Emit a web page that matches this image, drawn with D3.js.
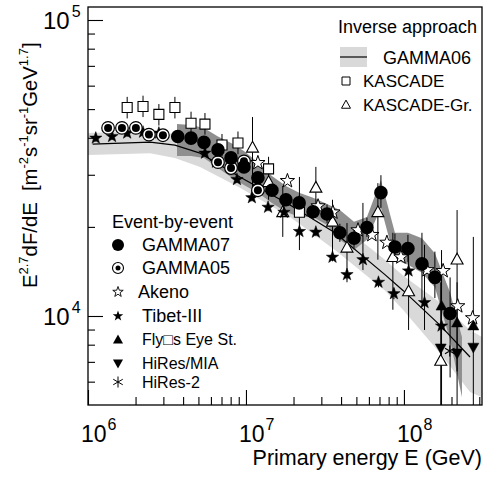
<!DOCTYPE html>
<html><head><meta charset="utf-8">
<script src="https://cdn.jsdelivr.net/npm/d3@7"></script>
<style>body{margin:0;background:#fff} text{font-family:"Liberation Sans",Arial,sans-serif;fill:#000}</style>
</head><body><svg id="c" width="486" height="477"></svg>
<script>
// ---------- data (E in GeV, F = E^2.7 dF/dE) ----------
// GAMMA06 (inverse approach) band and line
const g06E   = [1.0e6,2.47e6,3.55e6,5.12e6,9.16e6,1.90e7,3.66e7,7.58e7,9.86e7,1.69e8,2.62e8,3.12e8];
const g06Hi  = [4.15e4,4.22e4,4.12e4,3.84e4,3.24e4,2.61e4,2.11e4,1.55e4,1.37e4,1.11e4,8.97e3,8.49e3];
const g06Lo  = [3.50e4,3.55e4,3.42e4,3.19e4,2.71e4,2.16e4,1.67e4,1.22e4,1.05e4,7.50e3,5.54e3,5.32e3];
const g06LineE = [1.07e6,2.47e6,3.55e6,5.12e6,9.16e6,1.90e7,3.66e7,7.58e7,9.86e7,1.69e8,2.62e8];
const g06LineF = [3.81e4,3.87e4,3.78e4,3.55e4,2.95e4,2.37e4,1.91e4,1.38e4,1.22e4,9.32e3,7.27e3];
// GAMMA07 systematic band
const bandE  = [3.66e6,4.49e6,5.42e6,6.65e6,8.04e6,9.71e6,1.19e7,1.46e7,1.79e7,2.17e7,2.66e7,3.26e7,3.93e7,4.83e7,5.83e7,7.15e7,8.77e7,1.06e8,1.30e8,1.57e8,1.96e8,2.33e8];
const bandHi = [4.45e4,4.42e4,4.32e4,4.04e4,3.84e4,3.61e4,3.31e4,2.97e4,2.75e4,2.61e4,2.51e4,2.39e4,2.28e4,2.08e4,2.16e4,2.88e4,1.91e4,1.91e4,1.83e4,1.63e4,1.20e4,8.49e3];
const bandLo = [3.47e4,3.47e4,3.42e4,3.16e4,2.95e4,2.77e4,2.61e4,2.41e4,2.25e4,2.16e4,2.16e4,2.03e4,1.81e4,1.67e4,1.81e4,2.32e4,1.55e4,1.49e4,1.40e4,1.25e4,8.30e3,5.32e3];
// GAMMA07
const g07E  = [3.7e6,4.49e6,5.42e6,6.65e6,8.04e6,9.71e6,1.19e7,1.46e7,1.79e7,2.17e7,2.66e7,3.26e7,3.93e7,4.83e7,5.83e7,7.15e7,8.77e7,1.06e8,1.30e8,1.57e8,1.96e8];
const g07F  = [4.04e4,3.99e4,3.86e4,3.64e4,3.42e4,3.19e4,2.93e4,2.66e4,2.47e4,2.41e4,2.25e4,2.21e4,1.91e4,1.83e4,1.99e4,2.61e4,1.71e4,1.69e4,1.50e4,1.35e4,1.02e4];
const g07Hi = [4.2e4,4.15e4,4.0e4,3.8e4,3.55e4,3.32e4,3.05e4,2.78e4,2.6e4,2.55e4,2.4e4,2.38e4,2.05e4,1.98e4,2.15e4,2.99e4,1.9e4,1.88e4,1.91e4,1.65e4,1.35e4];
const g07Lo = [3.9e4,3.85e4,3.72e4,3.5e4,3.3e4,3.07e4,2.82e4,2.55e4,2.35e4,2.28e4,2.12e4,2.06e4,1.78e4,1.7e4,1.85e4,2.32e4,1.55e4,1.52e4,1.13e4,1.15e4,6.2e3];
// GAMMA05
const g05E = [1.34e6,1.64e6,2.01e6,2.43e6,2.98e6,6.65e6,8.04e6,9.71e6,1.19e7];
const g05F = [4.32e4,4.32e4,4.32e4,4.10e4,4.08e4,3.31e4,3.16e4,3.33e4,2.66e4];
// KASCADE
const kE  = [1.77e6,2.23e6,2.81e6,3.55e6,4.49e6,5.50e6,7.05e6,8.90e6,1.39e7,2.18e7];
const kF  = [5.06e4,5.10e4,4.80e4,5.06e4,4.48e4,4.45e4,3.78e4,3.84e4,3.14e4,2.24e4];
const kHi = [5.5e4,5.55e4,5.2e4,5.5e4,4.9e4,4.85e4,4.12e4,4.2e4,3.45e4,2.95e4];
const kLo = [4.65e4,4.7e4,4.4e4,4.65e4,4.1e4,4.1e4,3.46e4,3.52e4,2.85e4,1.67e4];
// KASCADE-Grande
const kgE  = [1.10e7,1.39e7,1.71e7,2.77e7,3.53e7,4.36e7,6.84e7,8.51e7,1.07e8,1.71e8,2.17e8];
const kgF  = [3.70e4,2.83e4,2.24e4,2.71e4,2.08e4,1.70e4,2.24e4,1.58e4,1.21e4,7.05e3,1.55e4];
const kgHi = [4.70e4,3.20e4,2.75e4,3.19e4,2.47e4,2.06e4,2.81e4,1.91e4,1.74e4,1.30e4,2.28e4];
const kgLo = [2.47e4,2.47e4,1.85e4,2.28e4,1.55e4,1.30e4,1.55e4,1.05e4,8.97e3,4.0e3,4.0e3];
// Akeno
const akE = [1.19e7,1.83e7,2.86e7,3.55e7,5.12e7,6.27e7,7.80e7,9.57e7,1.40e8,1.77e8,2.19e8,2.72e8];
const akF = [3.29e4,2.86e4,2.35e4,2.24e4,1.95e4,1.88e4,1.77e4,1.58e4,1.43e4,1.42e4,1.08e4,9.84e3];
// Tibet-III
const tbE  = [1.12e6,1.42e6,1.77e6,2.23e6,2.81e6,5.50e6,6.46e6,8.77e6,1.09e7,1.38e7,1.74e7,2.18e7,2.77e7,3.53e7,4.36e7,5.50e7,6.90e7,8.64e7,1.07e8,1.35e8,1.73e8];
const tbF  = [3.99e4,4.04e4,4.15e4,4.18e4,4.15e4,3.55e4,3.31e4,2.89e4,2.51e4,2.33e4,2.24e4,1.93e4,1.92e4,1.58e4,1.38e4,1.55e4,1.30e4,1.19e4,1.42e4,1.11e4,9.25e3];
const tbHi = [4.1e4,4.15e4,4.27e4,4.3e4,4.27e4,3.65e4,3.4e4,2.97e4,2.58e4,2.4e4,2.3e4,1.99e4,1.98e4,1.63e4,1.43e4,2.41e4,1.35e4,1.24e4,1.48e4,1.74e4,9.6e3];
const tbLo = [3.88e4,3.93e4,4.03e4,4.06e4,4.03e4,3.45e4,3.22e4,2.81e4,2.44e4,2.26e4,2.18e4,1.87e4,1.86e4,1.53e4,1.33e4,1.43e4,1.25e4,1.14e4,1.36e4,8.97e3,8.9e3];
// Fly's Eye stereo
const feE  = [1.73e8,2.17e8,2.75e8];
const feF  = [1.08e4,9.47e3,9.25e3];
const feHi = [1.67e4,1.3e4,1.85e4];
const feLo = [4.0e3,6.5e3,4.0e3];
// HiRes/MIA
const hmE = [1.71e8,2.17e8,2.75e8];
const hmF = [7.80e3,7.50e3,7.85e3];
// HiRes-2
const h2E = [1.95e8];
const h2F = [7.62e3];
// axis ticks
const xMajor = [1e6,1e7,1e8];
const xMajorExp = ["6","7","8"];
const yMajor = [1e4,1e5];
const yMajorExp = ["4","5"];

// ---------- scales ----------
const svg = d3.select("#c");
const x = d3.scaleLog().domain([1e6,3.12e8]).range([88,482]);
const y = d3.scaleLog().domain([5004,1.1064e5]).range([405,7]);

svg.append("defs").append("clipPath").attr("id","clip")
  .append("rect").attr("x",88).attr("y",7).attr("width",394).attr("height",398);
const plot = svg.append("g").attr("clip-path","url(#clip)");

// bands
const zip3 = (E,H,L)=>E.map((e,i)=>({e,h:H[i],l:L[i]}));
const area = d3.area().x(d=>x(d.e)).y0(d=>y(d.l)).y1(d=>y(d.h));
plot.append("path").datum(zip3(g06E,g06Hi,g06Lo)).attr("d",area).attr("fill","#d9d9d9");
plot.append("path").datum(zip3(bandE,bandHi,bandLo)).attr("d",area).attr("fill","#8f8f8f");
plot.append("path").datum(g06LineE.map((e,i)=>[e,g06LineF[i]]))
  .attr("d",d3.line().x(d=>x(d[0])).y(d=>y(d[1])))
  .attr("fill","none").attr("stroke","#000").attr("stroke-width",1.2);

// error bars
function errs(E,H,L){
  plot.append("g").selectAll("line").data(E.map((e,i)=>({e,h:H[i],l:L[i]}))).join("line")
    .attr("x1",d=>x(d.e)).attr("x2",d=>x(d.e)).attr("y1",d=>y(d.h)).attr("y2",d=>y(d.l))
    .attr("stroke","#000").attr("stroke-width",1);
}
errs(kE,kHi,kLo); errs(kgE,kgHi,kgLo); errs(tbE,tbHi,tbLo); errs(g07E,g07Hi,g07Lo); errs(feE,feHi,feLo);

// marker shapes
function star(R){const r=R*0.4;let p="";for(let i=0;i<10;i++){const a=-Math.PI/2+i*Math.PI/5,rr=i%2?r:R;p+=(i?"L":"M")+(rr*Math.cos(a)).toFixed(2)+","+(rr*Math.sin(a)).toFixed(2);}return p+"Z";}
function tri(w,down){const h=w*0.9,s=down?-1:1;return `M0,${-s*h*0.6}L${w/2},${s*h*0.4}L${-w/2},${s*h*0.4}Z`;}
function sq(s){return `M${-s/2},${-s/2}h${s}v${s}h${-s}Z`;}
function circ(r){return `M${-r},0a${r},${r} 0 1,0 ${2*r},0a${r},${r} 0 1,0 ${-2*r},0Z`;}
function aster(R){const c=Math.cos(Math.PI/6)*R,s=Math.sin(Math.PI/6)*R;return `M0,${-R}V${R}M${-c},${-s}L${c},${s}M${-c},${s}L${c},${-s}`;}

function marks(g,E,F,path,fill,stroke,sw){
  g.append("g").selectAll("path").data(E.map((e,i)=>[e,F[i]])).join("path")
    .attr("transform",d=>`translate(${x(d[0])},${y(d[1])})`).attr("d",path)
    .attr("fill",fill).attr("stroke",stroke).attr("stroke-width",sw);
}
marks(plot,kE,kF,sq(10),"#fff","#000",1.1);
marks(plot,kgE,kgF,tri(12,false),"#fff","#000",1.1);
marks(plot,akE,akF,star(7.5),"#fff","#000",1);
marks(plot,tbE,tbF,star(6.5),"#000","#000",0.5);
marks(plot,g05E,g05F,circ(6.3),"#fff","#000",1.2);
marks(plot,g05E,g05F,circ(4),"#000","none",0);
marks(plot,g07E,g07F,circ(6.8),"#000","none",0);
marks(plot,feE,feF,tri(11,false),"#000","#000",0.5);
marks(plot,hmE,hmF,tri(11,true),"#000","#000",0.5);
marks(plot,h2E,h2F,aster(5.5),"none","#000",1.1);

// frame & ticks
svg.append("rect").attr("x",88).attr("y",7).attr("width",394).attr("height",398)
  .attr("fill","none").attr("stroke","#000").attr("stroke-width",1.3);
const minorX=[],minorY=[];
[1e6,1e7,1e8].forEach(d=>{for(let k=2;k<=9;k++){const v=d*k;if(v<=3.12e8)minorX.push(v);}});
[1e3,1e4].forEach(d=>{for(let k=2;k<=9;k++){const v=d*k;if(v>=5004&&v<=1.1064e5)minorY.push(v);}});
function styleAxis(g){g.select(".domain").remove();g.selectAll("line").attr("stroke","#000").attr("stroke-width",1.1);}
svg.append("g").attr("transform","translate(0,405)").call(d3.axisBottom(x).tickValues(minorX).tickSize(-8).tickFormat("")).call(styleAxis);
svg.append("g").attr("transform","translate(0,405)").call(d3.axisBottom(x).tickValues(xMajor).tickSize(-15).tickFormat("")).call(styleAxis);
svg.append("g").attr("transform","translate(88,0)").call(d3.axisLeft(y).tickValues(minorY).tickSize(-7).tickFormat("")).call(styleAxis);
svg.append("g").attr("transform","translate(88,0)").call(d3.axisLeft(y).tickValues(yMajor).tickSize(-15).tickFormat("")).call(styleAxis);

// tick labels
xMajor.forEach((v,i)=>{
  const t=svg.append("text").attr("x",x(v)-7).attr("y",442).attr("font-size",23).text("10");
  t.append("tspan").attr("dy",-12).attr("dx",1).attr("font-size",16).text(xMajorExp[i]);
});
yMajor.forEach((v,i)=>{
  const t=svg.append("text").attr("x",43).attr("y",y(v)+9).attr("font-size",24).text("10");
  t.append("tspan").attr("dy",-12).attr("font-size",16).attr("dx",2).text(yMajorExp[i]);
});

// axis titles
svg.append("text").attr("x",482).attr("y",465).attr("font-size",21.5).attr("text-anchor","end").text("Primary energy E (GeV)");
const yl=svg.append("text").attr("transform","translate(37,288) rotate(-90)").attr("font-size",20.3);
const parts=[["E",0],["2.7",1],["dF/dE\u00a0\u00a0[m",0],["-2",1],["s",0],["-1",1],["sr",0],["-1",1],["GeV",0],["1.7",1],["]",0]];
let prevSup=false;
parts.forEach(([s,sup])=>{
  const ts=yl.append("tspan").text(s);
  if(sup&&!prevSup){ts.attr("dy",-9).attr("font-size",13);}
  else if(!sup&&prevSup){ts.attr("dy",9);}
  else if(sup){ts.attr("font-size",13);}
  prevSup=!!sup;
});

// legend: inverse approach
svg.append("text").attr("x",338).attr("y",33).attr("font-size",18).text("Inverse approach");
svg.append("rect").attr("x",340).attr("y",47).attr("width",27).attr("height",20).attr("fill","#d9d9d9");
svg.append("line").attr("x1",340).attr("x2",367).attr("y1",57).attr("y2",57).attr("stroke","#000").attr("stroke-width",1.2);
svg.append("text").attr("x",383).attr("y",64).attr("font-size",18).text("GAMMA06");
svg.append("path").attr("transform","translate(346,81)").attr("d",sq(8)).attr("fill","#fff").attr("stroke","#000").attr("stroke-width",1);
svg.append("text").attr("x",363).attr("y",87).attr("font-size",17).text("KASCADE");
svg.append("path").attr("transform","translate(346,105)").attr("d",tri(9,false)).attr("fill","#fff").attr("stroke","#000").attr("stroke-width",1);
svg.append("text").attr("x",363).attr("y",111).attr("font-size",17).text("KASCADE-Gr.");

// legend: event-by-event
svg.append("text").attr("x",112).attr("y",228).attr("font-size",18).text("Event-by-event");
const lx=118;
const leg=svg.append("g");
leg.append("path").attr("transform",`translate(${lx},245)`).attr("d",circ(6)).attr("fill","#000");
leg.append("text").attr("x",142).attr("y",251).attr("font-size",18).text("GAMMA07");
leg.append("path").attr("transform",`translate(${lx},268)`).attr("d",circ(5.5)).attr("fill","#fff").attr("stroke","#000").attr("stroke-width",1.1);
leg.append("path").attr("transform",`translate(${lx},268)`).attr("d",circ(2.5)).attr("fill","#000");
leg.append("text").attr("x",142).attr("y",274).attr("font-size",18).text("GAMMA05");
leg.append("path").attr("transform",`translate(${lx},292)`).attr("d",star(5.5)).attr("fill","#fff").attr("stroke","#000").attr("stroke-width",0.9);
leg.append("text").attr("x",138).attr("y",298).attr("font-size",18).text("Akeno");
leg.append("path").attr("transform",`translate(${lx},316)`).attr("d",star(5.5)).attr("fill","#000");
leg.append("text").attr("x",142).attr("y",322).attr("font-size",18).text("Tibet-III");
leg.append("path").attr("transform",`translate(${lx},340)`).attr("d",tri(10,false)).attr("fill","#000");
leg.append("text").attr("x",142).attr("y",345).attr("font-size",16).text("Fly\u25A1s Eye St.");
leg.append("path").attr("transform",`translate(${lx},363)`).attr("d",tri(10,true)).attr("fill","#000");
leg.append("text").attr("x",142).attr("y",369).attr("font-size",16).text("HiRes/MIA");
leg.append("path").attr("transform",`translate(${lx},382)`).attr("d",aster(5.5)).attr("fill","none").attr("stroke","#000").attr("stroke-width",1);
leg.append("text").attr("x",142).attr("y",388).attr("font-size",16).text("HiRes-2");
</script></body></html>
